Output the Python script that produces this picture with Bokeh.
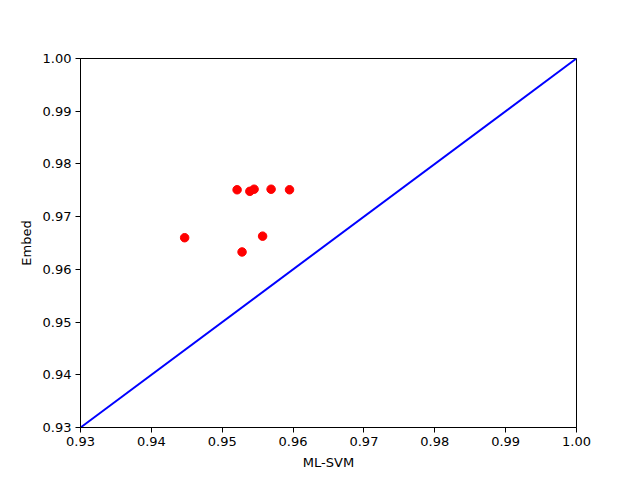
from bokeh.plotting import figure
from bokeh.models import Range1d, FixedTicker, NumeralTickFormatter
from bokeh.embed import file_html
from bokeh.resources import INLINE

ml_svm = [0.9521, 0.9539, 0.9545, 0.9569, 0.9595, 0.9447, 0.9557, 0.9528]
embed = [0.9751, 0.9748, 0.9752, 0.9752, 0.9751, 0.9660, 0.9663, 0.9633]
diag = [0.93, 1.00]
ticks = [0.93, 0.94, 0.95, 0.96, 0.97, 0.98, 0.99, 1.00]

p = figure(width=624, height=472, output_backend="svg", toolbar_location=None,
           x_range=Range1d(0.93, 1.00), y_range=Range1d(0.93, 1.00),
           min_border_left=80, min_border_right=48, min_border_top=58, min_border_bottom=45)
p.xgrid.visible = False
p.ygrid.visible = False
p.outline_line_color = "black"
p.outline_line_width = 1
p.background_fill_color = "white"
p.border_fill_color = "white"

p.line(diag, diag, line_color="blue", line_width=2)
p.scatter(ml_svm, embed, size=8.5, fill_color="red", line_color="red")

for ax, lab in ((p.xaxis[0], "ML-SVM"), (p.yaxis[0], "Embed")):
    ax.ticker = FixedTicker(ticks=ticks)
    ax.formatter = NumeralTickFormatter(format="0.00")
    ax.axis_label = lab
    ax.axis_label_text_font = "DejaVu Sans"
    ax.axis_label_text_font_style = "normal"
    ax.axis_label_text_font_size = "13px"
    ax.axis_label_text_color = "black"
    ax.major_label_text_font = "DejaVu Sans"
    ax.major_label_text_font_size = "13px"
    ax.major_label_text_color = "black"
    ax.minor_tick_line_color = None
    ax.major_tick_out = 5
    ax.major_tick_in = 0
    ax.axis_line_color = "black"
    ax.major_tick_line_color = "black"
    ax.axis_label_standoff = 6
    ax.major_label_standoff = 4

open("out.html", "w").write(file_html(p, INLINE))
